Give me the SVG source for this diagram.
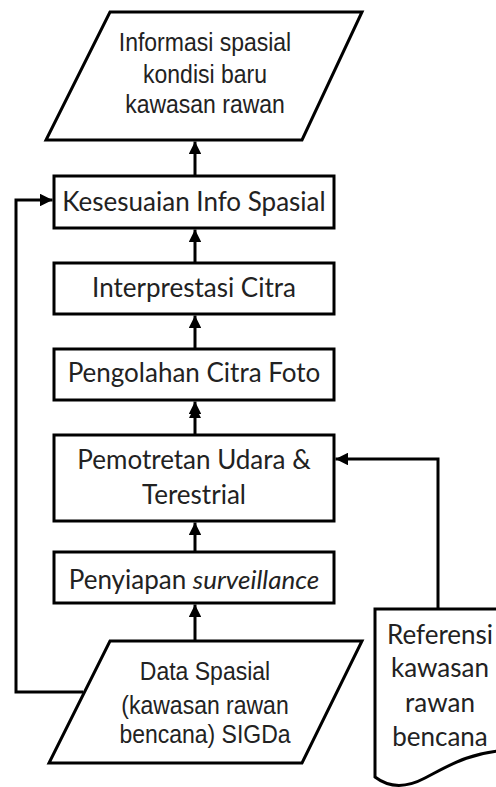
<svg xmlns="http://www.w3.org/2000/svg" width="496" height="787" viewBox="0 0 496 787">
<style>
.shape{fill:#fff;stroke:#000;stroke-width:3}
.line{fill:none;stroke:#000;stroke-width:3}
.head{fill:#000;stroke:none}
.t1{font-family:"Liberation Sans",Arial,sans-serif;font-size:23px;fill:#222;text-anchor:middle}
.t2{font-family:Lato,"Open Sans",sans-serif;font-size:26px;fill:#222;text-anchor:middle}
</style>
<defs>
<marker id="ah" viewBox="0 0 10 10" refX="10" refY="5" markerWidth="4.3" markerHeight="4.3" orient="auto" markerUnits="strokeWidth">
<path d="M0,0 L10,5 L0,10 Z" class="head"/>
</marker>
</defs>
<rect width="496" height="787" fill="#fff"/>
<g id="connectors">
<line class="line" x1="195" y1="176" x2="195" y2="141.5" marker-end="url(#ah)"/>
<line class="line" x1="195" y1="263" x2="195" y2="229.5" marker-end="url(#ah)"/>
<line class="line" x1="195" y1="349" x2="195" y2="315.5" marker-end="url(#ah)"/>
<line class="line" x1="195" y1="435" x2="195" y2="401.5" marker-end="url(#ah)"/>
<path class="head" d="M195,406 L201,418 L189,418 Z"/>
<line class="line" x1="195" y1="552" x2="195" y2="522.5" marker-end="url(#ah)"/>
<line class="line" x1="195" y1="641" x2="195" y2="604.5" marker-end="url(#ah)"/>
<polyline class="line" points="83,692 16,692 16,200 52.5,200" marker-end="url(#ah)"/>
<polyline class="line" points="438,609 438,459 335.5,459" marker-end="url(#ah)"/>
</g>
<g id="node-informasi">
<polygon class="shape" points="110,12 362,12 302,140 46,140"/>
<text class="t1" transform="translate(205,51) scale(1,1.1)">Informasi spasial</text>
<text class="t1" transform="translate(205,83) scale(1,1.1)">kondisi baru</text>
<text class="t1" transform="translate(205,113) scale(1,1.1)">kawasan rawan</text>
</g>
<g id="node-kesesuaian">
<rect class="shape" x="54" y="176" width="280" height="52"/>
<text class="t2" x="194" y="211">Kesesuaian Info Spasial</text>
</g>
<g id="node-interprestasi">
<rect class="shape" x="54" y="263" width="280" height="51"/>
<text class="t2" x="194" y="297">Interprestasi Citra</text>
</g>
<g id="node-pengolahan">
<rect class="shape" x="54" y="349" width="280" height="51"/>
<text class="t2" x="194" y="382">Pengolahan Citra Foto</text>
</g>
<g id="node-pemotretan">
<rect class="shape" x="54" y="435" width="280" height="86"/>
<text class="t2" x="194" y="469">Pemotretan Udara &amp;</text>
<text class="t2" x="194" y="504">Terestrial</text>
</g>
<g id="node-penyiapan">
<rect class="shape" x="54" y="552" width="280" height="51"/>
<text class="t2" x="194" y="589">Penyiapan <tspan font-style="italic">surveillance</tspan></text>
</g>
<g id="node-data">
<polygon class="shape" points="110,641 362,641 302,763 49,763"/>
<text class="t1" transform="translate(205,680) scale(1,1.1)">Data Spasial</text>
<text class="t1" transform="translate(205,714) scale(1,1.1)">(kawasan rawan</text>
<text class="t1" transform="translate(205,743) scale(1,1.1)">bencana) SIGDa</text>
</g>
<g id="node-referensi">
<path class="shape" d="M375,609 L510,609 L510,750 C470,752 450,765 425,778 C410,786 392,790 375,777 Z"/>
<text class="t2" x="440" y="644" font-size="25.5">Referensi</text>
<text class="t2" x="440" y="677" font-size="25.5">kawasan</text>
<text class="t2" x="440" y="712" font-size="25.5">rawan</text>
<text class="t2" x="440" y="746" font-size="25.5">bencana</text>
</g>
</svg>
